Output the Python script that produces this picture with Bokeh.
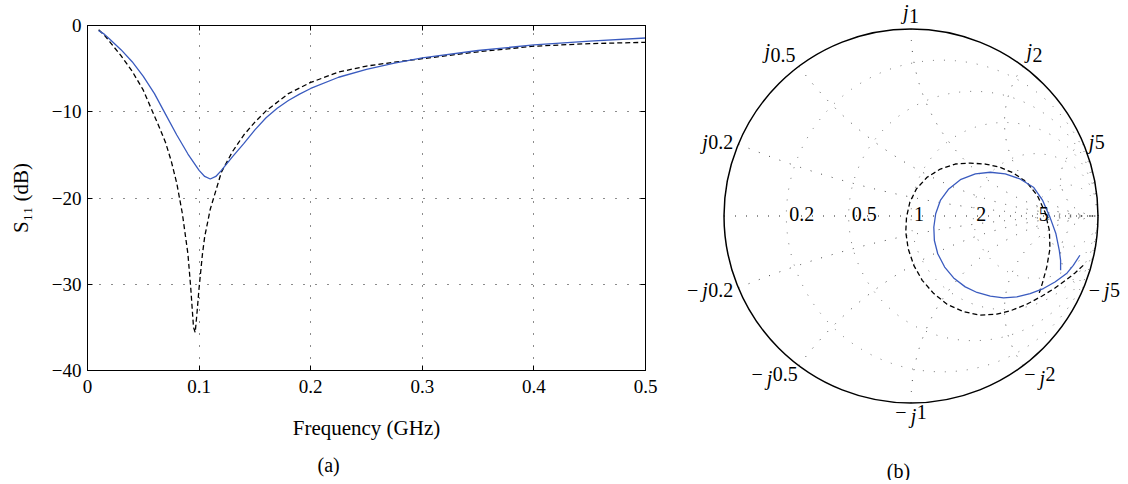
import numpy as np
from bokeh.plotting import figure
from bokeh.layouts import row
from bokeh.models import Range1d, FixedTicker, LinearAxis, Title, ColumnDataSource
from bokeh.embed import file_html
from bokeh.resources import INLINE
from bokeh.core.properties import value

FONT = "Liberation Serif"
BLUE = "#3a5bbf"

# ---------------- data: S11 magnitude (dB) vs frequency (GHz) ----------------
freq_meas = [0.010, 0.015, 0.020, 0.030, 0.040, 0.050, 0.060, 0.070, 0.080, 0.090,
             0.100, 0.105, 0.110, 0.115, 0.120, 0.130, 0.140, 0.150, 0.160, 0.170,
             0.180, 0.190, 0.200, 0.225, 0.250, 0.275, 0.300, 0.350, 0.400, 0.450, 0.500]
s11_meas_db = [-0.6, -1.0, -1.6, -2.8, -4.2, -5.9, -7.9, -10.3, -12.7, -14.9,
               -16.8, -17.5, -17.8, -17.5, -16.8, -15.2, -13.7, -12.1, -10.7, -9.6,
               -8.7, -7.95, -7.3, -6.0, -5.1, -4.35, -3.75, -2.9, -2.25, -1.8, -1.45]

freq_sim = [0.010, 0.015, 0.020, 0.030, 0.040, 0.050, 0.060, 0.065, 0.070, 0.075,
            0.080, 0.085, 0.090, 0.0925, 0.095, 0.0965, 0.098, 0.100, 0.103, 0.105,
            0.110, 0.120, 0.130, 0.140, 0.150, 0.160, 0.180, 0.200, 0.225, 0.250,
            0.275, 0.300, 0.350, 0.400, 0.450, 0.500]
s11_sim_db = [-0.5, -1.1, -1.9, -3.5, -5.3, -7.5, -10.5, -12.0, -13.6, -15.7,
              -18.3, -21.8, -26.5, -30.4, -35.0, -35.6, -33.5, -30.4, -26.5, -24.5,
              -21.3, -17.0, -14.6, -12.7, -11.2, -9.9, -7.9, -6.6, -5.4, -4.7,
              -4.25, -3.85, -3.05, -2.4, -2.1, -1.95]

x_ticks = [0, 0.1, 0.2, 0.3, 0.4, 0.5]
x_tick_labels = ["0", "0.1", "0.2", "0.3", "0.4", "0.5"]
y_ticks = [-40, -30, -20, -10, 0]
y_tick_labels = ["\u221240", "\u221230", "\u221220", "\u221210", "0"]

# ---------------- data: reflection coefficient on the Smith chart ----------------
gamma_meas_re = [0.903, 0.868, 0.832, 0.770, 0.708, 0.637, 0.566, 0.495, 0.424, 0.353,
                 0.290, 0.228, 0.180, 0.143, 0.125, 0.122, 0.132, 0.157, 0.202, 0.264,
                 0.344, 0.424, 0.504, 0.583, 0.655, 0.704, 0.743, 0.775, 0.793, 0.800, 0.800]
gamma_meas_im = [-0.210, -0.264, -0.308, -0.353, -0.388, -0.415, -0.433, -0.438, -0.429, -0.409,
                 -0.379, -0.331, -0.273, -0.202, -0.131, -0.060, 0.012, 0.083, 0.145, 0.194,
                 0.225, 0.234, 0.225, 0.198, 0.154, 0.083, -0.006, -0.095, -0.184, -0.237, -0.290]

gamma_sim_re = [0.921, 0.877, 0.832, 0.770, 0.699, 0.619, 0.539, 0.459, 0.370, 0.282,
                0.193, 0.122, 0.060, 0.015, -0.015, -0.028, -0.024, -0.006, 0.029, 0.086,
                0.157, 0.237, 0.317, 0.397, 0.477, 0.548, 0.619, 0.676, 0.717, 0.740,
                0.743, 0.726, 0.702, 0.686]
gamma_sim_im = [-0.264, -0.305, -0.340, -0.385, -0.429, -0.472, -0.504, -0.525, -0.530, -0.512,
                -0.472, -0.415, -0.344, -0.264, -0.175, -0.086, -0.006, 0.074, 0.145, 0.207,
                0.251, 0.278, 0.283, 0.278, 0.260, 0.230, 0.180, 0.109, 0.020, -0.077,
                -0.175, -0.273, -0.361, -0.411]

smith_r_values = [0.2, 0.5, 1, 2, 5]
smith_r_labels = ["0.2", "0.5", "1", "2", "5"]
smith_x_values = [0.2, 0.5, 1, 2, 5]
smith_x_labels = ["0.2", "0.5", "1", "2", "5"]

H1 = 484
H = 480

# =============================== left panel ===============================
p1 = figure(width=680, height=H1, x_range=Range1d(0, 0.5), y_range=Range1d(-40, 0),
            output_backend="svg", toolbar_location=None,
            min_border_left=87, min_border_right=35, min_border_top=25,
            min_border_bottom=H1 - 25 - 349)
p1.frame_align = False
p1.background_fill_color = "white"
p1.border_fill_color = "white"
p1.outline_line_color = "black"
p1.outline_line_width = 1

p1.xaxis.ticker = FixedTicker(ticks=x_ticks)
p1.yaxis.ticker = FixedTicker(ticks=y_ticks)
p1.xaxis.major_label_overrides = dict(zip(x_ticks, x_tick_labels))
p1.yaxis.major_label_overrides = dict(zip(y_ticks, y_tick_labels))
for ax in (p1.xaxis[0], p1.yaxis[0]):
    ax.major_tick_in = 5
    ax.major_tick_out = 0
    ax.minor_tick_line_color = None
    ax.axis_line_color = "black"
    ax.major_tick_line_color = "black"
    ax.major_label_text_font = FONT
    ax.major_label_text_font_size = "19px"
    ax.major_label_text_color = "black"
    ax.axis_label_text_font = FONT
    ax.axis_label_text_font_size = "21px"
    ax.axis_label_text_font_style = "normal"
    ax.axis_label_text_color = "black"
p1.xaxis.major_label_standoff = 9
p1.yaxis.major_label_standoff = 6
p1.xaxis.axis_label = "Frequency (GHz)"
p1.yaxis.axis_label = "S\u2081\u2081 (dB)"
p1.xaxis.axis_label_standoff = 20
p1.yaxis.axis_label_standoff = 16

for loc, tk in (("right", y_ticks), ("above", x_ticks)):
    ax = LinearAxis(ticker=FixedTicker(ticks=tk), major_tick_in=5, major_tick_out=0,
                    minor_tick_line_color=None,
                    major_label_overrides={k: "" for k in tk},
                    axis_line_color="black", major_tick_line_color="black",
                    major_label_standoff=0)
    p1.add_layout(ax, loc)

p1.grid.grid_line_color = "black"
p1.grid.grid_line_dash = "1 11"
p1.grid.grid_line_width = 1
p1.grid.grid_line_alpha = 0.9
p1.xgrid.ticker = FixedTicker(ticks=x_ticks)
p1.ygrid.ticker = FixedTicker(ticks=y_ticks)

p1.line(freq_sim, s11_sim_db, line_color="black", line_width=1.3, line_dash="5 3")
p1.line(freq_meas, s11_meas_db, line_color=BLUE, line_width=1.3)

# caption (a) below the panel
p1.add_layout(Title(text="(a)", align="left", offset=230, standoff=18, text_font=FONT,
                    text_font_size="20px", text_font_style="normal", text_color="black"),
              "below")

# =============================== right panel ===============================
PX = 187.0
W2 = 444
x0 = -(910.5 - 680) / PX
x1 = x0 + W2 / PX
y1 = 215.5 / PX
y0 = y1 - H / PX
p2 = figure(width=W2, height=H, x_range=Range1d(x0, x1), y_range=Range1d(y0, y1),
            output_backend="svg", toolbar_location=None, min_border=0,
            x_axis_type=None, y_axis_type=None)
p2.frame_align = False
p2.grid.visible = False
p2.outline_line_color = None
p2.background_fill_color = "white"
p2.border_fill_color = "white"

# constant resistance circles
rx, ry = [], []
t = np.linspace(0, 2 * np.pi, 500)
for r in smith_r_values:
    c = r / (1 + r)
    rad = 1 / (1 + r)
    rx.append(c + rad * np.cos(t))
    ry.append(rad * np.sin(t))
p2.multi_line(rx, ry, line_color="#777777", line_dash="1 10", line_width=1)

# constant reactance arcs
ax_, ay_ = [], []
rr = np.concatenate([np.linspace(0, 5, 400), np.geomspace(5, 5000, 300)])
for xv in smith_x_values:
    for s in (1, -1):
        z = rr + 1j * s * xv
        g = (z - 1) / (z + 1)
        ax_.append(g.real)
        ay_.append(g.imag)
p2.multi_line(ax_, ay_, line_color="#444444", line_dash="1 10", line_width=1)
# real axis
p2.line([-1, 1], [0, 0], line_color="#222222", line_dash="1 10", line_width=1)

# outer boundary
p2.circle(x=[0], y=[0], radius=1, fill_color=None, line_color="black", line_width=1.5)

# curves
p2.line(gamma_sim_re, gamma_sim_im, line_color="black", line_width=1.3, line_dash="5 3")
p2.line(gamma_meas_re, gamma_meas_im, line_color=BLUE, line_width=1.3)

# resistance labels on the real axis
gx = [(r - 1) / (r + 1) for r in smith_r_values]
p2.text(x=gx, y=[0] * len(gx), text=smith_r_labels, text_font=value(FONT),
        text_font_size="20px", text_align="left", text_baseline="middle",
        x_offset=3, y_offset=-2, text_color="black")

# reactance labels around the rim (italic j)
FS = 20
em = {"0": 0.5, "1": 0.5, "2": 0.5, "5": 0.5, ".": 0.25, "\u2212": 0.564}
def w(s):
    return sum(em.get(ch, 0.5) for ch in s) * FS
WJ = 0.30 * FS
pre = dict(x=[], y=[], t=[], o=[], b=[])
jj = dict(x=[], y=[], t=[], o=[], b=[])
num = dict(x=[], y=[], t=[], o=[], b=[])
for xv, lab in zip(smith_x_values, smith_x_labels):
    for s in (1, -1):
        th = s * (np.pi - 2 * np.arctan(xv))
        c, sn = np.cos(th), np.sin(th)
        if sn > 0.6:
            b, rad_l = "bottom", 1.03
        elif sn < -0.6:
            b, rad_l = "top", 1.01
        else:
            b, rad_l = "middle", 1.03
        ax0, ay0 = rad_l * c, rad_l * sn
        prefix = "\u2212" if s < 0 else ""
        gap = 4 if s < 0 else 0
        W = (w(prefix) + gap if prefix else 0) + WJ + w(lab)
        if c < -0.15:
            L = -W
        elif c > 0.15:
            L = 0
        else:
            L = -W / 2
        cur = L
        if prefix:
            pre["x"].append(ax0); pre["y"].append(ay0); pre["t"].append(prefix)
            pre["o"].append(cur); pre["b"].append(b)
            cur += w(prefix) + gap
        jj["x"].append(ax0); jj["y"].append(ay0); jj["t"].append("j")
        jj["o"].append(cur); jj["b"].append(b)
        cur += WJ
        num["x"].append(ax0); num["y"].append(ay0); num["t"].append(lab)
        num["o"].append(cur); num["b"].append(b)

for d, style in ((pre, "normal"), (jj, "italic"), (num, "normal")):
    src = ColumnDataSource(dict(x=d["x"], y=d["y"], t=d["t"], o=d["o"], b=d["b"]))
    p2.text(x="x", y="y", text="t", x_offset="o", text_baseline="b", source=src,
            text_font=value(FONT), text_font_size=f"{FS}px", text_font_style=style,
            text_align="left", text_color="black")

p2.text(x=[-0.067], y=[(215.5 - 470) / PX], text=["(b)"], text_font=value(FONT),
        text_font_size="20px", text_align="center", text_baseline="middle", text_color="black")

layout = row(p1, p2)
open("out.html", "w").write(file_html(layout, INLINE))
